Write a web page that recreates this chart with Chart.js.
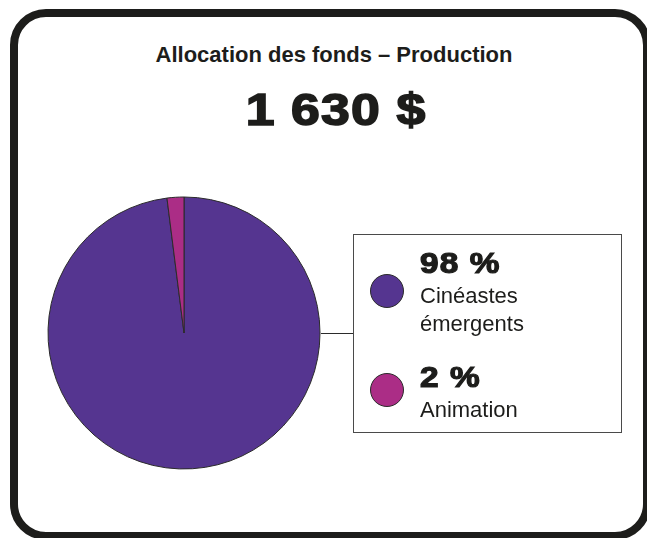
<!DOCTYPE html>
<html lang="fr">
<head>
<meta charset="utf-8">
<title>Allocation des fonds – Production</title>
<script src="https://cdn.jsdelivr.net/npm/chart.js@4.4.1/dist/chart.umd.min.js"></script>
<style>
    html, body {
        margin: 0;
        padding: 0;
        width: 647px;
        height: 538px;
        overflow: hidden;
        background: #ffffff;
        font-family: "Liberation Sans", Arial, sans-serif;
        color: #1d1d1b;
    }

    .frame {
        position: absolute;
        left: 10px;
        top: 9px;
        width: 641px;
        height: 531px;
        box-sizing: border-box;
        border: 8px solid #1d1d1b;
        border-radius: 36px;
    }

    .title {
        position: absolute;
        left: 334px;
        top: 44px;
        transform: translateX(-50%);
        font-size: 22px;
        line-height: 22px;
        font-weight: bold;
        white-space: nowrap;
    }

    .total {
        position: absolute;
        left: 336px;
        top: 87px;
        transform: translateX(-50%) scaleX(1.15);
        font-size: 45px;
        line-height: 45px;
        font-weight: bold;
        letter-spacing: 1px;
        -webkit-text-stroke: 1.6px #1d1d1b;
        white-space: nowrap;
    }

    #pieCanvas {
        position: absolute;
        left: 34px;
        top: 183px;
    }

    .connector {
        position: absolute;
        left: 321px;
        top: 333px;
        width: 32px;
        height: 1px;
        background: #2b2b2b;
    }

    .legend-box {
        position: absolute;
        left: 353px;
        top: 234px;
        width: 269px;
        height: 199px;
        box-sizing: border-box;
        border: 1px solid #4a4a4a;
    }

    .legend-dot {
        position: absolute;
        width: 34px;
        height: 34px;
        box-sizing: border-box;
        border-radius: 50%;
        border: 1px solid #2b2b2b;
    }

    .legend-pct {
        position: absolute;
        left: 420px;
        font-size: 29px;
        line-height: 29px;
        font-weight: bold;
        letter-spacing: 1px;
        -webkit-text-stroke: 1.2px #1d1d1b;
        transform: scaleX(1.15);
        transform-origin: left center;
        white-space: nowrap;
    }

    .legend-label {
        position: absolute;
        left: 420px;
        width: 150px;
        font-size: 22px;
        line-height: 28px;
    }
</style>
</head>
<body>

<div class="frame"></div>
<div class="title" id="title"></div>
<div class="total" id="total"></div>

<canvas id="pieCanvas" width="300" height="300"></canvas>

<div class="connector"></div>
<div class="legend-box"></div>
<div id="legend"></div>

<script>
// ================================
// DATA
// ================================

const chartTitle = "Allocation des fonds – Production";

const totalLabel = "1 630 $";

const categories = [
    "Cinéastes émergents",
    "Animation"
];

const shares = [
    98,
    2
];

const sliceColors = [
    "#553590",
    "#ab2d86"
];

// ================================
// HEADER
// ================================

document.getElementById("title").textContent = chartTitle;

document.getElementById("total").textContent = totalLabel;

// ================================
// PIE CHART
// ================================

const pieCtx = document.getElementById("pieCanvas");

new Chart(pieCtx, {

    type: "pie",

    data: {

        labels: categories,

        datasets: [{

            data: shares,

            backgroundColor: sliceColors,

            borderColor: "#2b2b2b",

            borderWidth: 1

        }]

    },

    options: {

        responsive: false,

        animation: false,

        radius: 136,

        layout: {
            padding: 0
        },

        plugins: {

            legend: {
                display: false
            },

            tooltip: {
                enabled: false
            }

        }

    }

});

// ================================
// LEGEND
// ================================

const legend = document.getElementById("legend");

// layout of each legend entry: text block top, swatch top
const rowTops = [249, 363];
const dotTops = [274, 373];

categories.forEach((name, i) => {

    const top = rowTops[i];

    const dot = document.createElement("div");
    dot.className = "legend-dot";
    dot.style.left = "370px";
    dot.style.top = dotTops[i] + "px";
    dot.style.background = sliceColors[i];

    const pct = document.createElement("div");
    pct.className = "legend-pct";
    pct.style.top = top + "px";
    pct.textContent = shares[i] + " %";

    const label = document.createElement("div");
    label.className = "legend-label";
    label.style.top = (top + 33) + "px";
    label.textContent = name;

    legend.appendChild(dot);
    legend.appendChild(pct);
    legend.appendChild(label);

});
</script>

</body>
</html>
